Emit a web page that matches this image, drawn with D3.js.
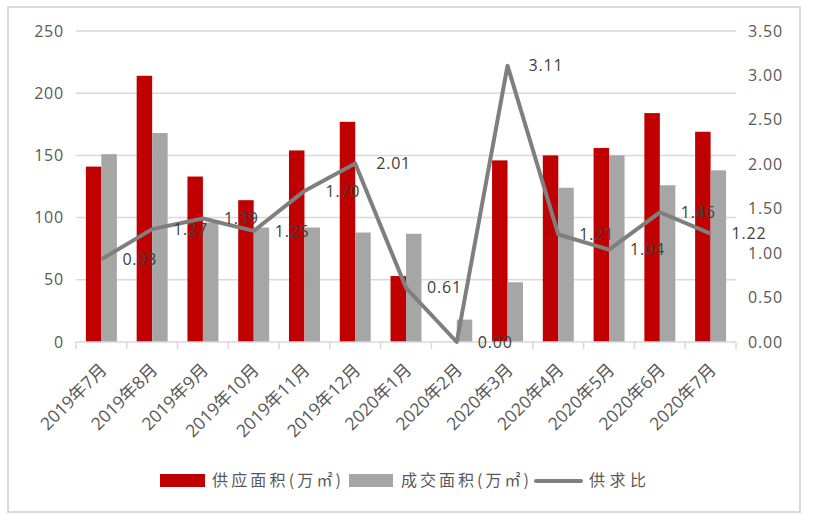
<!DOCTYPE html>
<html><head><meta charset="utf-8">
<script src="https://cdn.jsdelivr.net/npm/d3@7"></script>
<style>html,body{margin:0;padding:0;background:#fff;}svg{display:block;}</style>
</head><body>
<svg id="chart" width="816" height="520"></svg>
<script>
const categories = ["2019年7月","2019年8月","2019年9月","2019年10月","2019年11月","2019年12月","2020年1月","2020年2月","2020年3月","2020年4月","2020年5月","2020年6月","2020年7月"];
const supply = [141,214,133,114,154,177,53,0,146,150,156,184,169];
const deal   = [151,168,96,92,92,88,87,18,48,124,150,126,138];
const ratio  = [0.93,1.27,1.39,1.25,1.70,2.01,0.61,0.00,3.11,1.21,1.04,1.46,1.22];
const leftTicks = [0,50,100,150,200,250];
const rightTicks = [0,0.5,1,1.5,2,2.5,3,3.5];
const seriesNames = ["供应面积(万㎡)","成交面积(万㎡)","供求比"];
const colors = {supply:"#c00000", deal:"#a6a6a6", line:"#7f7f7f", grid:"#d9d9d9", axisText:"#595959", label:"#404040"};

const svg = d3.select("#chart");
const L = 76, R = 736, T = 31, B = 342;
const font = "'Open Sans', 'Noto Sans CJK SC', sans-serif";

// border
svg.append("rect").attr("x",8).attr("y",7).attr("width",792).attr("height",505)
  .attr("fill","none").attr("stroke",colors.grid).attr("stroke-width",2);

const x0 = d3.scaleBand().domain(categories).range([L,R]).paddingInner(0.39).paddingOuter(0.195);
const x1 = d3.scaleBand().domain(["supply","deal"]).range([0,x0.bandwidth()]);
const yL = d3.scaleLinear().domain([0,250]).range([B,T]);
const yR = d3.scaleLinear().domain([0,3.5]).range([B,T]);
const step = x0.step();

// gridlines
svg.append("g").selectAll("line").data(leftTicks.filter(d=>d>0)).join("line")
  .attr("x1",L).attr("x2",R).attr("y1",d=>yL(d)).attr("y2",d=>yL(d))
  .attr("stroke",colors.grid).attr("stroke-width",1.5);

// bars
const groups = svg.append("g").selectAll("g").data(categories).join("g")
  .attr("transform",d=>`translate(${x0(d)},0)`);
groups.append("rect").attr("x",x1("supply")).attr("width",x1.bandwidth())
  .attr("y",(d,i)=>yL(supply[i])).attr("height",(d,i)=>B-yL(supply[i])).attr("fill",colors.supply);
groups.append("rect").attr("x",x1("deal")).attr("width",x1.bandwidth())
  .attr("y",(d,i)=>yL(deal[i])).attr("height",(d,i)=>B-yL(deal[i])).attr("fill",colors.deal);

// bottom axis line & ticks
svg.append("line").attr("x1",L).attr("x2",R).attr("y1",B).attr("y2",B)
  .attr("stroke",colors.grid).attr("stroke-width",1.5);
const edges = d3.range(categories.length+1).map(i=>L+i*step);
svg.append("g").selectAll("line").data(edges).join("line")
  .attr("x1",d=>d).attr("x2",d=>d).attr("y1",B).attr("y2",B+7)
  .attr("stroke",colors.grid).attr("stroke-width",1.5);

// left axis labels
const axL = d3.axisLeft(yL).tickValues(leftTicks).tickSize(0).tickPadding(12).tickFormat(d3.format("d"));
const gL = svg.append("g").attr("transform",`translate(${L},0)`).call(axL);
gL.select(".domain").remove();
gL.selectAll("text").attr("font-family",font).attr("font-size",16).attr("letter-spacing","0.8px").attr("fill",colors.axisText);

// right axis labels
const axR = d3.axisRight(yR).tickValues(rightTicks).tickSize(0).tickPadding(12).tickFormat(d3.format(".2f"));
const gR = svg.append("g").attr("transform",`translate(${R},0)`).call(axR);
gR.select(".domain").remove();
gR.selectAll("text").attr("font-family",font).attr("font-size",16).attr("letter-spacing","0.8px").attr("fill",colors.axisText);

// x labels
svg.append("g").selectAll("text").data(categories).join("text")
  .attr("transform",d=>`translate(${x0(d)+x0.bandwidth()/2+6.5},${B+29}) rotate(-45)`)
  .attr("text-anchor","end").attr("font-family",font).attr("font-size",17.5)
  .attr("fill",colors.axisText).text(d=>d);

// line
const cx = d=>x0(d)+x0.bandwidth()/2;
const line = d3.line().x((d,i)=>cx(categories[i])).y(d=>yR(d));
svg.append("path").datum(ratio).attr("d",line).attr("fill","none")
  .attr("stroke",colors.line).attr("stroke-width",4).attr("stroke-linejoin","round");

// data labels
svg.append("g").selectAll("text").data(ratio).join("text")
  .attr("x",(d,i)=>cx(categories[i])+21).attr("y",(d)=>yR(d))
  .attr("dy","0.35em").attr("font-family",font).attr("font-size",16).attr("letter-spacing","0.8px")
  .attr("fill",colors.label).text(d=>d3.format(".2f")(d));

// legend
const lg = svg.append("g");
const ly = 480;
lg.append("rect").attr("x",160).attr("y",ly-6).attr("width",45).attr("height",13).attr("fill",colors.supply);
lg.append("text").attr("x",212).attr("y",ly).attr("dy","0.35em").attr("font-family","'Noto Sans CJK SC', sans-serif")
  .attr("font-size",16).attr("fill",colors.axisText).attr("textLength",129).attr("lengthAdjust","spacing").text(seriesNames[0]);
lg.append("rect").attr("x",349).attr("y",ly-6).attr("width",44).attr("height",13).attr("fill",colors.deal);
lg.append("text").attr("x",401).attr("y",ly).attr("dy","0.35em").attr("font-family","'Noto Sans CJK SC', sans-serif")
  .attr("font-size",16).attr("fill",colors.axisText).attr("textLength",128).attr("lengthAdjust","spacing").text(seriesNames[1]);
lg.append("line").attr("x1",536).attr("x2",581).attr("y1",ly+1).attr("y2",ly+1)
  .attr("stroke",colors.line).attr("stroke-width",4).attr("stroke-linecap","round");
lg.append("text").attr("x",589).attr("y",ly).attr("dy","0.35em").attr("font-family","'Noto Sans CJK SC', sans-serif")
  .attr("font-size",16).attr("fill",colors.axisText).attr("textLength",57).attr("lengthAdjust","spacing").text(seriesNames[2]);
</script>
</body></html>
